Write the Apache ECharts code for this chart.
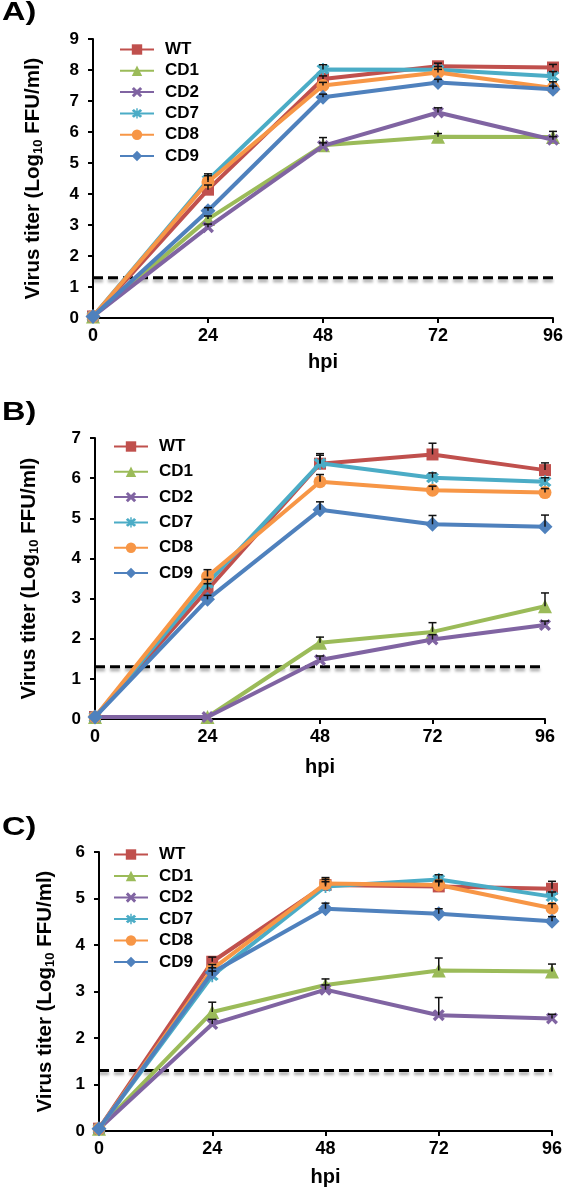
<!DOCTYPE html>
<html>
<head>
<meta charset="utf-8">
<script src="https://cdn.jsdelivr.net/npm/echarts@6/dist/echarts.min.js"></script>
<style>
html,body{margin:0;padding:0;background:#fff;}
#chart{width:566px;height:1189px;}
</style>
</head>
<body>
<div id="chart"></div>
<script>
// ---- data ----
const hours = [0, 24, 48, 72, 96];
const seriesNames = ['WT', 'CD1', 'CD2', 'CD7', 'CD8', 'CD9'];
const yTicksA = [0, 9];
const yTicksB = [0, 7];
const yTicksC = [0, 6];
const detectionLimit = 1.3;

// Panel A titers (rows follow seriesNames)
const titerA = [
  [0.05, 4.14, 7.71, 8.12, 8.08],
  [0.05, 3.19, 5.57, 5.85, 5.84],
  [0.05, 2.93, 5.55, 6.63, 5.75],
  [0.05, 4.45, 8.02, 8.01, 7.80],
  [0.05, 4.39, 7.50, 7.92, 7.42],
  [0.05, 3.46, 7.12, 7.60, 7.38]
];
const errA = [
  [0, 0.15, 0.10, 0.10, 0.10],
  [0, 0.10, 0.25, 0.10, 0.18],
  [0, 0.10, 0.10, 0.15, 0.10],
  [0, 0.20, 0.15, 0.10, 0.15],
  [0, 0.20, 0.10, 0.10, 0.20],
  [0, 0.10, 0.10, 0.10, 0.10]
];
// Panel B
const titerB = [
  [0.05, 3.22, 6.36, 6.59, 6.20],
  [0.05, 0.05, 1.90, 2.17, 2.81],
  [0.05, 0.05, 1.47, 1.98, 2.34],
  [0.05, 3.38, 6.37, 6.01, 5.91],
  [0.05, 3.55, 5.91, 5.70, 5.64],
  [0.05, 2.98, 5.21, 4.85, 4.79]
];
const errB = [
  [0, 0.15, 0.25, 0.28, 0.18],
  [0, 0, 0.14, 0.23, 0.33],
  [0, 0, 0.10, 0.12, 0.10],
  [0, 0.10, 0.20, 0.12, 0.10],
  [0, 0.17, 0.18, 0.10, 0.10],
  [0, 0.10, 0.20, 0.22, 0.29]
];
// Panel C
const titerC = [
  [0.05, 3.64, 5.29, 5.26, 5.21],
  [0.05, 2.56, 3.14, 3.45, 3.43],
  [0.05, 2.30, 3.04, 2.49, 2.42],
  [0.05, 3.34, 5.26, 5.41, 5.04],
  [0.05, 3.48, 5.32, 5.29, 4.79],
  [0.05, 3.41, 4.78, 4.67, 4.51]
];
const errC = [
  [0, 0.10, 0.12, 0.10, 0.16],
  [0, 0.21, 0.13, 0.27, 0.16],
  [0, 0.10, 0.10, 0.38, 0.09],
  [0, 0.10, 0.10, 0.10, 0.10],
  [0, 0.10, 0.13, 0.10, 0.10],
  [0, 0.10, 0.12, 0.11, 0.10]
];
const panelLabels = ['A)', 'B)', 'C)'];

// ---- styles ----
const FONT = '"Liberation Sans", Arial, sans-serif';
const colors = ['#C0504D', '#9BBB59', '#8064A2', '#4BACC6', '#F79646', '#4F81BD'];
const xPath = 'path://M2,0L5,3L8,0L10,2L7,5L10,8L8,10L5,7L2,10L0,8L3,5L0,2Z';
const starPath = 'path://M2,0L5,3L8,0L10,2L7,5L10,8L8,10L5,7L2,10L0,8L3,5L0,2Z M4.3,-1L5.7,-1L5.7,11L4.3,11Z';
const symbols = ['rect', 'triangle', xPath, starPath, 'circle', 'diamond'];
const symbolSizes = [12, 14, 12, 13, 13, 15];

const panels = [
  {titer: titerA, err: errA, yr: yTicksA, grid: {left: 93, top: 39, width: 460, height: 279},
   nameGap: 48, xNameGap: 34, legTop: 36, legLeft: 114, legGap: 4.3, lab: [2, 15]},
  {titer: titerB, err: errB, yr: yTicksB, grid: {left: 95, top: 438, width: 450, height: 281},
   nameGap: 54, xNameGap: 38, legTop: 433, legLeft: 108, legGap: 8.3, lab: [2, 415]},
  {titer: titerC, err: errC, yr: yTicksC, grid: {left: 99, top: 852, width: 453, height: 279},
   nameGap: 42, xNameGap: 36, legTop: 841, legLeft: 108, legGap: 4.5, lab: [2, 830]}
];

const grids = [], xAxes = [], yAxes = [], series = [], legends = [], graphics = [];

panels.forEach((p, pi) => {
  grids.push(p.grid);
  xAxes.push({
    type: 'value', gridIndex: pi, min: 0, max: 96, interval: 24,
    name: 'hpi', nameLocation: 'middle', nameGap: p.xNameGap,
    nameTextStyle: {fontFamily: FONT, fontWeight: 'bold', fontSize: 20, color: '#000'},
    axisLine: {onZero: false, lineStyle: {color: '#000', width: 2}},
    axisTick: {show: true, length: 5, lineStyle: {color: '#000', width: 2}},
    axisLabel: {fontFamily: FONT, fontWeight: 'bold', fontSize: 18, color: '#000', margin: 9},
    splitLine: {show: false}
  });
  yAxes.push({
    type: 'value', gridIndex: pi, min: p.yr[0], max: p.yr[1], interval: 1,
    name: 'Virus titer (Log{sub|10} FFU/ml)', nameLocation: 'middle', nameRotate: 90, nameGap: p.nameGap,
    nameTextStyle: {fontFamily: FONT, fontWeight: 'bold', fontSize: 20.5, color: '#000', lineHeight: 23,
      rich: {sub: {fontFamily: FONT, fontWeight: 'bold', fontSize: 13, color: '#000', verticalAlign: 'bottom', lineHeight: 23}}},
    axisLine: {show: true, lineStyle: {color: '#000', width: 2}},
    axisTick: {show: true, length: 5, lineStyle: {color: '#000', width: 2}},
    axisLabel: {fontFamily: FONT, fontWeight: 'bold', fontSize: 17, color: '#000', margin: 14},
    splitLine: {show: false}
  });
  // detection limit
  series.push({
    type: 'line', name: 'LOD', xAxisIndex: pi, yAxisIndex: pi, silent: true,
    data: [[hours[0], detectionLimit], [hours[hours.length - 1], detectionLimit]],
    symbol: 'none', z: 1,
    lineStyle: {color: '#000', width: 3, type: [10, 5], shadowColor: 'rgba(0,0,0,0.35)', shadowBlur: 3, shadowOffsetY: 3}
  });
  seriesNames.forEach((nm, si) => {
    series.push({
      type: 'line', name: nm, xAxisIndex: pi, yAxisIndex: pi,
      data: hours.map((h, k) => [h, p.titer[si][k]]),
      symbol: symbols[si], symbolSize: symbolSizes[si], showAllSymbol: true,
      color: colors[si], z: 3 + si,
      lineStyle: {color: colors[si], width: 4},
      itemStyle: {color: colors[si], borderWidth: 0, opacity: 1}
    });
  });
  // error bars (upper whiskers)
  const errData = [];
  seriesNames.forEach((nm, si) => {
    hours.forEach((h, k) => {
      if (p.err[si][k] > 0) errData.push([h, p.titer[si][k], p.titer[si][k] + p.err[si][k]]);
    });
  });
  series.push({
    type: 'custom', name: 'err', xAxisIndex: pi, yAxisIndex: pi, silent: true, z: 10,
    data: errData,
    renderItem: function (params, api) {
      const a = api.coord([api.value(0), api.value(1)]);
      const b = api.coord([api.value(0), api.value(2)]);
      return {type: 'group', children: [
        {type: 'line', shape: {x1: a[0], y1: a[1], x2: b[0], y2: b[1]}, style: {stroke: '#111', lineWidth: 1.5}},
        {type: 'line', shape: {x1: b[0] - 4, y1: b[1], x2: b[0] + 4, y2: b[1]}, style: {stroke: '#111', lineWidth: 1.5}}
      ]};
    }
  });
  legends.push({
    data: seriesNames, orient: 'vertical', left: p.legLeft, top: p.legTop,
    itemWidth: 34, itemHeight: 13, itemGap: p.legGap, selectedMode: false,
    textStyle: {fontFamily: FONT, fontWeight: 'bold', fontSize: 17, color: '#000', lineHeight: 17, padding: [0, 0, 0, 6]}
  });
  graphics.push({
    type: 'text', left: p.lab[0], top: p.lab[1] - 14, scaleX: 1.3, scaleY: 1,
    style: {text: panelLabels[pi], fontFamily: FONT, fontWeight: 'bold', fontSize: 25, fill: '#000'}
  });
});

const chart = echarts.init(document.getElementById('chart'), null, {renderer: 'canvas'});
chart.setOption({
  backgroundColor: '#fff',
  animation: false,
  grid: grids, xAxis: xAxes, yAxis: yAxes,
  legend: legends, series: series, graphic: graphics
});
</script>
</body>
</html>
